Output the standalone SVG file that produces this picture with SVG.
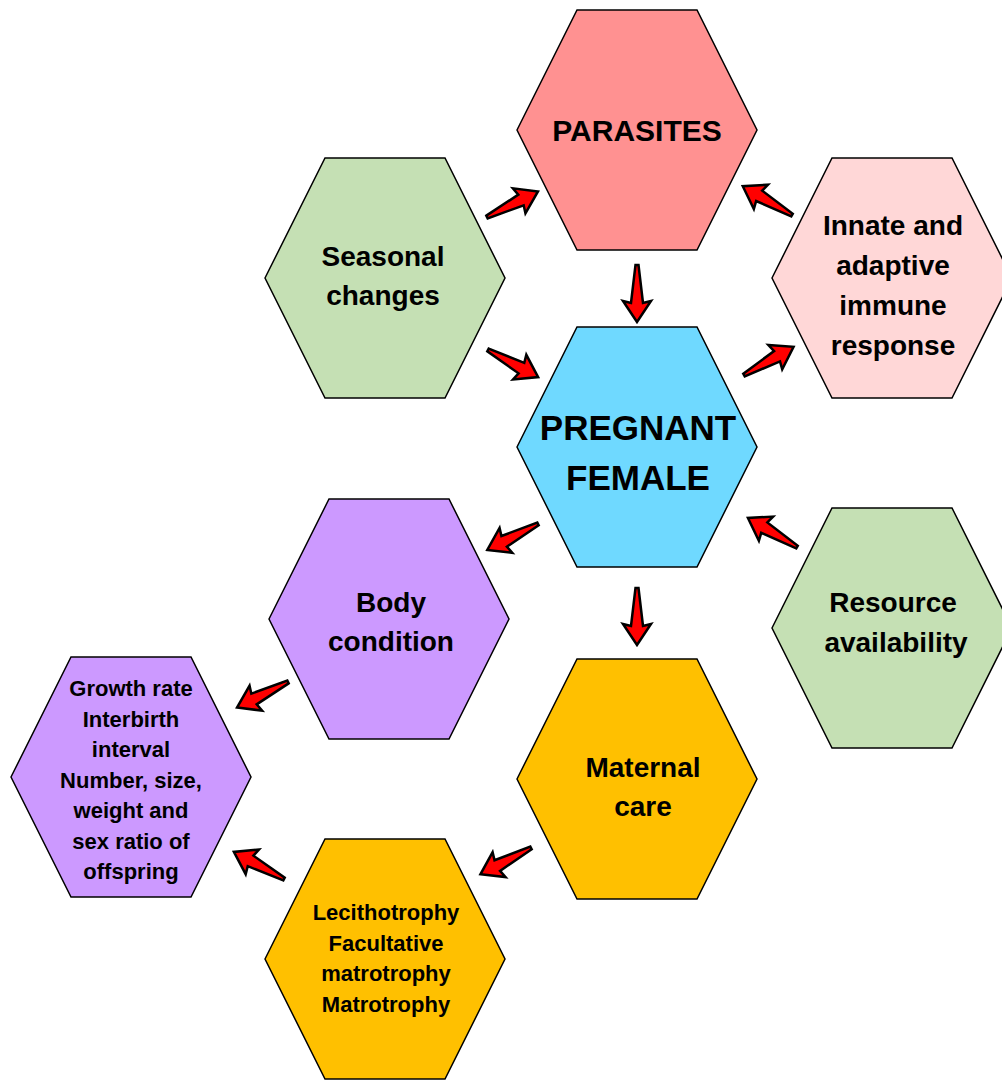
<svg xmlns="http://www.w3.org/2000/svg" width="1002" height="1080" viewBox="0 0 1002 1080">
<style>
.hex{stroke:#000;stroke-width:1.5}
.t{font-family:"Liberation Sans",Arial,sans-serif;font-weight:bold;text-anchor:middle;fill:#000}
.m{font-size:28px}
.s{font-size:22px}
.arr{fill:#FF0000;stroke:#000;stroke-width:2.5;stroke-linejoin:miter}
</style>
<defs>
<polygon id="hx" points="-120,0 -60,-120 60,-120 120,0 60,120 -60,120"/>
<path id="ar" d="M0,-1.5 L38,-6 L36,-14 L57,0 L36,14 L38,6 L0,1.5 Z"/>
</defs>
<rect width="1002" height="1080" fill="#fff"/>
<g id="parasites">
<use href="#hx" class="hex" fill="#FF9191" transform="translate(637,130)"/>
<text class="t" x="637" y="141" font-size="30">PARASITES</text>
</g>
<g id="seasonal">
<use href="#hx" class="hex" fill="#C5E0B4" transform="translate(385,278)"/>
<text class="t m" x="383" y="266">Seasonal</text>
<text class="t m" x="383" y="305">changes</text>
</g>
<g id="immune">
<use href="#hx" class="hex" fill="#FFD7D7" transform="translate(892,278)"/>
<text class="t m" x="893" y="235">Innate and</text>
<text class="t m" x="893" y="275">adaptive</text>
<text class="t m" x="893" y="315">immune</text>
<text class="t m" x="893" y="355">response</text>
</g>
<g id="pregnant">
<use href="#hx" class="hex" fill="#6FD9FF" transform="translate(637,447)"/>
<text class="t" x="638" y="440" font-size="35">PREGNANT</text>
<text class="t" x="638" y="490" font-size="35">FEMALE</text>
</g>
<g id="body">
<use href="#hx" class="hex" fill="#CC99FF" transform="translate(389,619)"/>
<text class="t m" x="391" y="612">Body</text>
<text class="t m" x="391" y="651">condition</text>
</g>
<g id="resource">
<use href="#hx" class="hex" fill="#C5E0B4" transform="translate(892,628)"/>
<text class="t m" x="893" y="612">Resource</text>
<text class="t m" x="896" y="652">availability</text>
</g>
<g id="maternal">
<use href="#hx" class="hex" fill="#FFC000" transform="translate(637,779)"/>
<text class="t m" x="643" y="777">Maternal</text>
<text class="t m" x="643" y="816">care</text>
</g>
<g id="growth">
<use href="#hx" class="hex" fill="#CC99FF" transform="translate(131,777)"/>
<text class="t s" x="131" y="696">Growth rate</text>
<text class="t s" x="131" y="727">Interbirth</text>
<text class="t s" x="131" y="757">interval</text>
<text class="t s" x="131" y="788">Number, size,</text>
<text class="t s" x="131" y="818">weight and</text>
<text class="t s" x="131" y="849">sex ratio of</text>
<text class="t s" x="131" y="879">offspring</text>
</g>
<g id="trophy">
<use href="#hx" class="hex" fill="#FFC000" transform="translate(385,959)"/>
<text class="t s" x="386" y="920">Lecithotrophy</text>
<text class="t s" x="386" y="951">Facultative</text>
<text class="t s" x="386" y="981">matrotrophy</text>
<text class="t s" x="386" y="1012">Matrotrophy</text>
</g>
<g id="connectors">
<use href="#ar" class="arr" transform="translate(487,217) rotate(-26.6)"/>
<use href="#ar" class="arr" transform="translate(792,215) rotate(-149.7)"/>
<use href="#ar" class="arr" transform="translate(637,265) rotate(90)"/>
<use href="#ar" class="arr" transform="translate(488,350) rotate(28.4)"/>
<use href="#ar" class="arr" transform="translate(744,375) rotate(-29.6)"/>
<use href="#ar" class="arr" transform="translate(538,524) rotate(152.9)"/>
<use href="#ar" class="arr" transform="translate(797,547) rotate(-149.4)"/>
<use href="#ar" class="arr" transform="translate(637,588) rotate(90)"/>
<use href="#ar" class="arr" transform="translate(288,682) rotate(153.4)"/>
<use href="#ar" class="arr" transform="translate(531,848) rotate(152.5)"/>
<use href="#ar" class="arr" transform="translate(284,879) rotate(-151.6)"/>
</g>
</svg>
